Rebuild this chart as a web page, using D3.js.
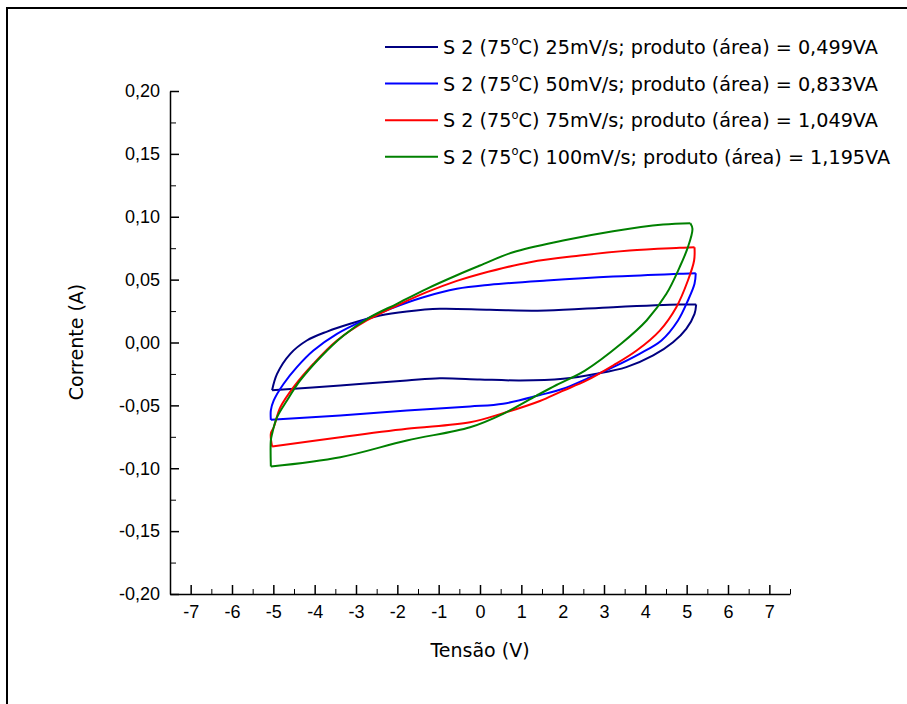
<!DOCTYPE html>
<html>
<head>
<meta charset="utf-8">
<script src="https://cdn.jsdelivr.net/npm/d3@7"></script>
<style>
    html, body { margin: 0; padding: 0; background: #fff; }
    #chart { width: 907px; height: 704px; }
</style>
</head>
<body>
<div id="chart"></div>
<script>
// Voltammetry loops, values: [tensão (V), corrente (A)]
const rates = ['25mV/s', '50mV/s', '75mV/s', '100mV/s'];
const areas = ['0,499VA', '0,833VA', '1,049VA', '1,195VA'];

const fwd25 = [[-5.03,-0.038],[-4.91,-0.025],[-4.59,-0.009],[-4.19,0.0016],[-3.70,0.0087],[-3.14,0.0149],
    [-2.42,0.0215],[-1.77,0.0247],[-0.97,0.0268],[0.24,0.026],[1.61,0.0254],[3.22,0.0281],[4.83,0.0302],[5.23,0.0302]];
const rev25 = [[5.23,0.0302],[5.19,0.0228],[4.99,0.0109],[4.67,0.0002],[4.19,-0.0103],[3.54,-0.0196],[2.82,-0.0249],
    [2.01,-0.0289],[0.97,-0.0302],[0,-0.0294],[-0.97,-0.0284],[-1.77,-0.0302],[-3.38,-0.0342],[-5.03,-0.038]];

const fwd50 = [[-5.06,-0.0615],[-5.06,-0.054],[-4.99,-0.0461],[-4.75,-0.0328],[-4.43,-0.0196],[-4.03,-0.0064],
    [-3.46,0.0069],[-2.74,0.0188],[-2.17,0.0268],[-1.37,0.036],[-0.56,0.0427],[0.24,0.0459],[1.61,0.0493],
    [3.22,0.0525],[4.83,0.0546],[5.22,0.0551]];
const rev50 = [[5.22,0.0551],[5.19,0.0467],[5.03,0.0334],[4.79,0.0175],[4.39,0.0016],[3.86,-0.009],[3.22,-0.0196],
    [2.58,-0.0289],[2.01,-0.0368],[1.45,-0.0418],[0.56,-0.0487],[-0.24,-0.0509],[-1.77,-0.0541],[-3.38,-0.058],[-5.06,-0.0615]];

const fwd75 = [[-5.03,-0.0827],[-5.06,-0.0724],[-4.99,-0.0674],[-4.83,-0.0515],[-4.51,-0.0355],[-4.03,-0.0169],
    [-3.46,0.0016],[-2.74,0.0175],[-2.01,0.0294],[-1.29,0.04],[-0.56,0.049],[0,0.0545],[1.21,0.0639],[2.42,0.0692],
    [3.62,0.0732],[4.83,0.0753],[5.19,0.0758]];
const rev75 = [[5.19,0.0758],[5.18,0.0652],[5.03,0.0493],[4.75,0.0281],[4.35,0.0095],[3.79,-0.0064],[3.22,-0.0183],
    [2.58,-0.0302],[1.96,-0.039],[1.45,-0.0465],[0.56,-0.0562],[-0.24,-0.0634],[-1.77,-0.0686],[-3.38,-0.0753],[-5.03,-0.0827]];

const fwd100 = [[-5.06,-0.0986],[-5.06,-0.0779],[-5.03,-0.0726],[-4.91,-0.0594],[-4.67,-0.0461],[-4.35,-0.0302],
    [-3.86,-0.0117],[-3.30,0.0056],[-2.66,0.0201],[-2.01,0.0308],[-1.29,0.0427],[-0.56,0.0535],[0,0.0612],
    [0.80,0.0718],[2.01,0.0811],[3.22,0.0885],[4.43,0.0938],[5.09,0.0949]];
const rev100 = [[5.09,0.0949],[5.14,0.0904],[5.03,0.0758],[4.83,0.0599],[4.51,0.0387],[4.03,0.0175],[3.42,-0.0008],
    [2.54,-0.0223],[1.85,-0.0338],[1.37,-0.0422],[0.56,-0.0567],[-0.24,-0.0674],[-1.77,-0.0779],[-3.38,-0.0912],[-5.06,-0.0986]];

const xTicks = d3.range(-7, 8, 1);
const yTicks = d3.range(-0.2, 0.2001, 0.05);

class VoltammetryChart {
    constructor(containerId) {
        this.container = d3.select(`#${containerId}`);
        this.width = 907;
        this.height = 704;
        this.colors = ['#000080', '#0000ff', '#ff0000', '#008000'];
        this.loops = [[fwd25, rev25], [fwd50, rev50], [fwd75, rev75], [fwd100, rev100]];
    }

    render() {
        const svg = this.container.append('svg')
            .attr('width', this.width)
            .attr('height', this.height);

        svg.append('rect')
            .attr('width', this.width)
            .attr('height', this.height)
            .attr('fill', '#fff');

        // outer frame (only top and left edges visible)
        svg.append('path')
            .attr('d', 'M7,710V8H910')
            .attr('fill', 'none')
            .attr('stroke', '#000')
            .attr('stroke-width', 2);

        const x = d3.scaleLinear().domain([-7.5, 7.5]).range([170, 790]);
        const y = d3.scaleLinear().domain([-0.2, 0.2]).range([594, 91]);

        const loc = d3.formatLocale({ decimal: ',', thousands: '.', grouping: [3], currency: ['', ''], minus: '-' });
        const fmtY = loc.format('.2f');

        const tickFont = "'Liberation Sans', Arial, sans-serif";
        const titleFont = "'DejaVu Sans', Verdana, sans-serif";

        // minor ticks
        svg.append('g')
            .attr('transform', `translate(0,${y(-0.2)})`)
            .call(d3.axisBottom(x).tickValues(d3.range(-6.5, 7.6, 1)).tickSize(-5).tickSizeOuter(0).tickFormat(''))
            .call(g => g.select('.domain').remove());
        svg.append('g')
            .attr('transform', `translate(${x(-7.5)},0)`)
            .call(d3.axisLeft(y).tickValues(d3.range(-0.175, 0.2, 0.05)).tickSize(-6).tickSizeOuter(0).tickFormat(''))
            .call(g => g.select('.domain').remove());

        const xAxis = svg.append('g')
            .attr('transform', `translate(0,${y(-0.2)})`)
            .call(d3.axisBottom(x).tickValues(xTicks).tickSize(-9).tickSizeOuter(0).tickPadding(11)
                .tickFormat(d => loc.format('d')(d)));

        const yAxis = svg.append('g')
            .attr('transform', `translate(${x(-7.5)},0)`)
            .call(d3.axisLeft(y).tickValues(yTicks).tickSize(-9).tickSizeOuter(0).tickPadding(10)
                .tickFormat(d => fmtY(Math.abs(d) < 1e-9 ? 0 : d)));

        [xAxis, yAxis].forEach(a => {
            a.selectAll('text').style('font-family', tickFont).style('font-size', '18px').attr('fill', '#000');
            a.selectAll('line, path').attr('stroke', '#000').attr('stroke-width', 1.5);
        });

        svg.append('text')
            .attr('x', 480)
            .attr('y', 657)
            .attr('text-anchor', 'middle')
            .style('font-family', titleFont)
            .style('font-size', '19px')
            .text('Tensão (V)');

        svg.append('text')
            .attr('transform', 'translate(76,342) rotate(-90)')
            .attr('dy', '.35em')
            .attr('text-anchor', 'middle')
            .style('font-family', titleFont)
            .style('font-size', '19px')
            .text('Corrente (A)');

        // loops, each scan branch drawn on its own so the vertices stay sharp
        const line = d3.line()
            .x(d => x(d[0]))
            .y(d => y(d[1]))
            .curve(d3.curveCatmullRom.alpha(0.5));

        this.loops.forEach((branches, i) => {
            branches.forEach(b => {
                svg.append('path')
                    .datum(b)
                    .attr('d', line)
                    .attr('fill', 'none')
                    .attr('stroke', this.colors[i])
                    .attr('stroke-width', 2)
                    .attr('stroke-linejoin', 'round');
            });
        });

        // legend
        const legend = svg.append('g').attr('transform', 'translate(385,47)');
        const items = legend.selectAll('.legend-item')
            .data(rates)
            .enter()
            .append('g')
            .attr('class', 'legend-item')
            .attr('transform', (d, i) => `translate(0,${i * 36.6})`);

        items.append('line')
            .attr('x1', 0)
            .attr('x2', 53)
            .attr('stroke', (d, i) => this.colors[i])
            .attr('stroke-width', 2);

        const txt = items.append('text')
            .attr('x', 58)
            .attr('dy', '.36em')
            .style('font-family', titleFont)
            .style('font-size', '19.2px')
            .attr('fill', '#000');
        txt.append('tspan').text('S 2 (75');
        txt.append('tspan').attr('dy', -8.5).style('font-size', '11.5px').text('o');
        txt.append('tspan').attr('dy', 8.5).text((d, i) => `C) ${d}; produto (área) = ${areas[i]}`);
    }
}

new VoltammetryChart('chart').render();
</script>
</body>
</html>
